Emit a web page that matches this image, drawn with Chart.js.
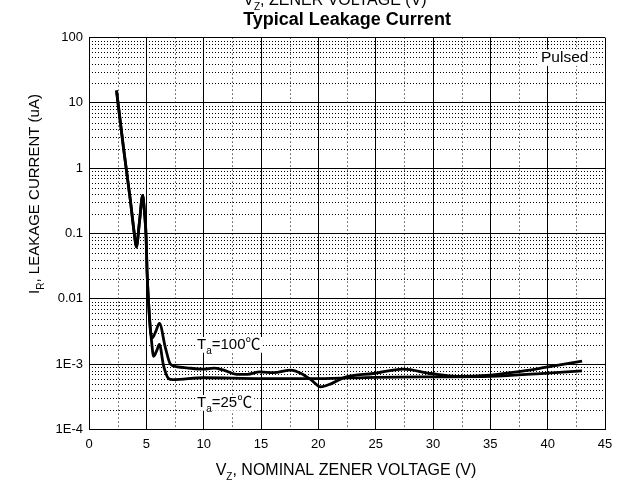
<!DOCTYPE html>
<html>
<head>
<meta charset="utf-8">
<script src="https://cdn.jsdelivr.net/npm/chart.js@4.4.1/dist/chart.umd.min.js"></script>
<style>
  html, body { margin: 0; padding: 0; background: #fff; }
  #wrap { width: 626px; height: 484px; position: relative; }
</style>
</head>
<body>
<div id="wrap"><canvas id="chart"></canvas></div>
<script>
const FONT = "'Liberation Sans', Arial, Helvetica, 'Noto Sans CJK SC', sans-serif";

// Ta = 25 C (the steep part below 5.2 V is shared with the 100 C curve)
const vz25 = [2.4, 3.0, 3.6, 3.95, 4.13, 4.4, 4.68, 4.85, 4.98, 5.06, 5.2,
  5.44, 5.64, 5.9, 6.14, 6.5, 6.95, 7.3, 10, 15, 20, 25, 30, 35, 40, 43];
const ir25 = [15.5, 2.1, 0.33, 0.1, 0.062, 0.15, 0.385, 0.2, 0.089, 0.027, 0.0085,
  0.0024, 0.00132, 0.0016, 0.002, 0.00095, 0.0006, 0.00058, 0.00062, 0.0006, 0.0006, 0.00063, 0.00064, 0.00065, 0.00073, 0.00079];

// Ta = 100 C
const vz100 = [2.4, 3.0, 3.6, 3.95, 4.13, 4.4, 4.68, 4.85, 4.98, 5.06, 5.2,
  5.35, 5.5, 5.8, 6.14, 6.66, 7.1, 7.7, 8.5, 10, 10.9, 11.75, 12.9, 13.8, 14.9, 16.1, 17.6,
  18.5, 19.4, 20.2, 21.1, 22.3, 24.8, 27.4, 29.8, 32.1, 35, 37.3, 39.9, 43];
const ir100 = [15.5, 2.1, 0.33, 0.1, 0.062, 0.15, 0.385, 0.2, 0.089, 0.027, 0.0085,
  0.0033, 0.0025, 0.0031, 0.0042, 0.0018, 0.001, 0.00091, 0.00088, 0.00084, 0.00087, 0.00081, 0.0007, 0.0007, 0.00076, 0.00074, 0.00081,
  0.00072, 0.00057, 0.00045, 0.0005, 0.00063, 0.00072, 0.00084, 0.00072, 0.00065, 0.00068, 0.00076, 0.0009, 0.00111];

const xTicks = [0, 5, 10, 15, 20, 25, 30, 35, 40, 45];
const yTicks = [1e-4, 1e-3, 0.01, 0.1, 1, 10, 100];
const yTickLabels = ['1E-4', '1E-3', '0.01', '0.1', '1', '10', '100'];

// dotted minor grid: 2..9 inside every decade, half steps on x
const yMinor = [];
yTicks.slice(0, -1).forEach(d => { for (let m = 2; m <= 9; m++) yMinor.push(m * d); });
const xMinor = xTicks.slice(0, -1).map(v => v + 2.5);

function richText(ctx, x, y, parts, size, align) {
  // parts: [text, isSubscript]
  const subSize = Math.round(size * 0.65);
  let w = 0;
  parts.forEach(p => {
    ctx.font = (p[1] ? subSize : size) + 'px ' + FONT;
    w += ctx.measureText(p[0]).width;
  });
  let cx = align === 'center' ? x - w / 2 : x;
  parts.forEach(p => {
    ctx.font = (p[1] ? subSize : size) + 'px ' + FONT;
    ctx.fillText(p[0], cx, p[1] ? y + size * 0.3 : y);
    cx += ctx.measureText(p[0]).width;
  });
  return w;
}

function boxedText(ctx, x, y, parts, size) {
  ctx.save();
  const w = richText(ctx, -1000, -1000, parts, size, 'left');
  ctx.fillStyle = '#fff';
  ctx.fillRect(x - 2, y - size * 0.8, w + 4, size * 1.05);
  ctx.fillStyle = '#000';
  richText(ctx, x, y, parts, size, 'left');
  ctx.restore();
}

const minorGrid = {
  id: 'minorGrid',
  beforeDatasetsDraw(chart) {
    const {ctx, chartArea: a, scales: {x, y}} = chart;
    ctx.save();
    ctx.strokeStyle = '#000';
    ctx.lineWidth = 1;
    ctx.setLineDash([1, 2]);
    yMinor.forEach(v => {
      const py = Math.round(y.getPixelForValue(v)) + 0.5;
      ctx.beginPath(); ctx.moveTo(a.left, py); ctx.lineTo(a.right, py); ctx.stroke();
    });
    ctx.setLineDash([1, 3]);
    xMinor.forEach(v => {
      const px = Math.round(x.getPixelForValue(v)) + 0.5;
      ctx.beginPath(); ctx.moveTo(px, a.top); ctx.lineTo(px, a.bottom); ctx.stroke();
    });
    ctx.restore();
  }
};

const labels = {
  id: 'labels',
  afterDraw(chart) {
    const ctx = chart.ctx;
    ctx.save();
    ctx.fillStyle = '#000';
    ctx.textBaseline = 'alphabetic';
    // leftover line of an upper title, cut by the top edge
    richText(ctx, 335, 5, [['V', 0], ['Z', 1], [', ZENER VOLTAGE (V)', 0]], 16, 'center');
    // x axis title
    richText(ctx, 346, 475, [['V', 0], ['Z', 1], [', NOMINAL ZENER VOLTAGE (V)', 0]], 16, 'center');
    // y axis title
    ctx.save();
    ctx.translate(39, 194);
    ctx.rotate(-Math.PI / 2);
    richText(ctx, 0, 0, [['I', 0], ['R', 1], [', LEAKAGE CURRENT (uA)', 0]], 15, 'center');
    ctx.restore();
    ctx.restore();

    boxedText(ctx, 541, 62, [['Pulsed', 0]], 15.5);
    boxedText(ctx, 197, 349, [['T', 0], ['a', 1], ['=100℃', 0]], 15);
    boxedText(ctx, 197, 407, [['T', 0], ['a', 1], ['=25℃', 0]], 15);
  }
};

const tickFont = {family: FONT, size: 13};

new Chart(document.getElementById('chart'), {
  type: 'line',
  data: {
    datasets: [
      {
        label: 'Ta=25℃',
        data: vz25.map((v, i) => ({x: v, y: ir25[i]})),
        borderColor: '#000',
        borderWidth: 2.8,
        pointRadius: 0,
        fill: false,
        cubicInterpolationMode: 'monotone'
      },
      {
        label: 'Ta=100℃',
        data: vz100.map((v, i) => ({x: v, y: ir100[i]})),
        borderColor: '#000',
        borderWidth: 2.8,
        pointRadius: 0,
        fill: false,
        cubicInterpolationMode: 'monotone'
      }
    ]
  },
  options: {
    responsive: true,
    maintainAspectRatio: false,
    animation: false,
    layout: {padding: {left: 0, right: 21, top: 0, bottom: 0}},
    plugins: {
      legend: {display: false},
      tooltip: {enabled: false},
      title: {
        display: true,
        text: 'Typical Leakage Current',
        fullSize: false,
        color: '#000',
        font: {family: FONT, size: 18, weight: 'bold', lineHeight: 1.2},
        padding: {top: 9, bottom: 7}
      }
    },
    scales: {
      x: {
        type: 'linear',
        min: 0,
        max: 45,
        afterBuildTicks: s => { s.ticks = xTicks.map(v => ({value: v})); },
        afterFit: s => { s.height = 54.5; },
        grid: {color: '#000', lineWidth: 1, drawTicks: false},
        border: {color: '#000', width: 1},
        ticks: {color: '#000', font: tickFont, padding: 7, maxRotation: 0, autoSkip: false}
      },
      y: {
        type: 'logarithmic',
        min: 1e-4,
        max: 100,
        afterBuildTicks: s => { s.ticks = yTicks.map(v => ({value: v})); },
        afterFit: s => { s.width = 89; },
        grid: {color: '#000', lineWidth: 1, drawTicks: false},
        border: {color: '#000', width: 1},
        ticks: {
          color: '#000',
          font: tickFont,
          padding: 6,
          autoSkip: false,
          callback: (value, index) => yTickLabels[index]
        }
      }
    }
  },
  plugins: [minorGrid, labels]
});
</script>
</body>
</html>
